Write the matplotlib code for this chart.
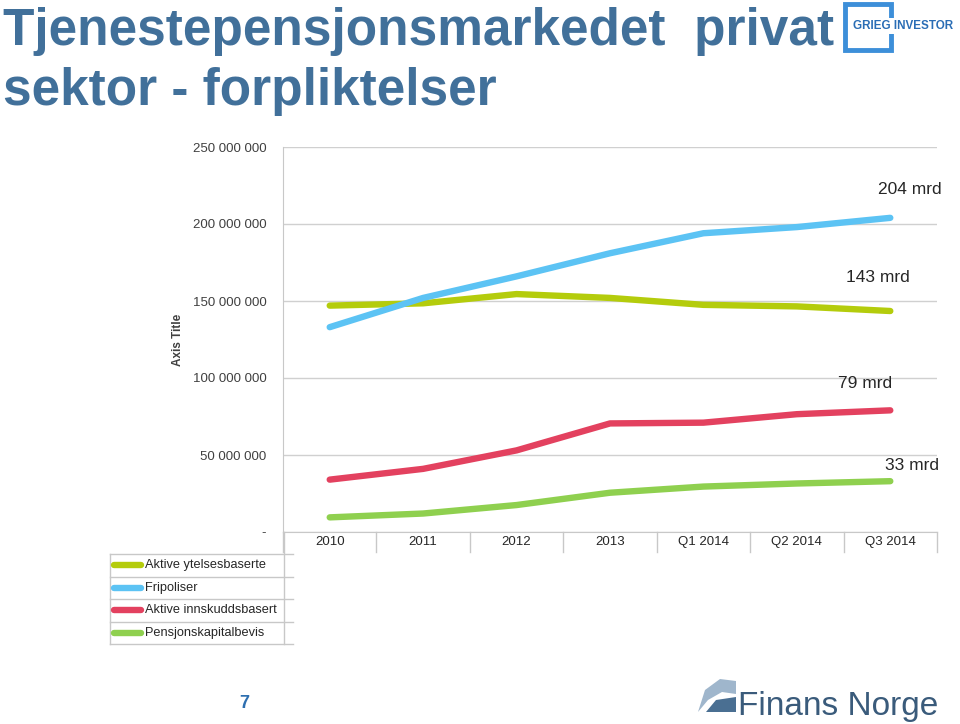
import matplotlib
matplotlib.use("Agg")
import matplotlib.pyplot as plt
from matplotlib.lines import Line2D
from matplotlib.patches import Rectangle, Polygon
from matplotlib.ticker import FuncFormatter, MultipleLocator

categories = ["2010", "2011", "2012", "2013", "Q1 2014", "Q2 2014", "Q3 2014"]
series_names = ["Aktive ytelsesbaserte", "Fripoliser", "Aktive innskuddsbasert", "Pensjonskapitalbevis"]
aktive_ytelse = [147.0e6, 148.5e6, 154.5e6, 152.0e6, 147.5e6, 146.5e6, 143.5e6]
fripoliser = [133.0e6, 152.0e6, 166.0e6, 181.0e6, 194.0e6, 198.0e6, 204.0e6]
aktive_innskudd = [34.0e6, 41.0e6, 53.0e6, 70.5e6, 71.0e6, 76.5e6, 79.0e6]
pensjonskapital = [9.5e6, 12.0e6, 17.5e6, 25.5e6, 29.5e6, 31.5e6, 33.0e6]
end_labels = ["143 mrd", "204 mrd", "79 mrd", "33 mrd"]
colors = ["#b4cc0c", "#5cc3f4", "#e3415f", "#8fd04f"]

FONT = ["Liberation Sans", "DejaVu Sans"]
TITLE_C = "#41709a"

W, H = 960, 724
fig = plt.figure(figsize=(W / 100, H / 100), dpi=100)
fig.patch.set_facecolor("white")

def fx(px):
    return px / W

def fy(py):
    return 1 - py / H

ax = fig.add_axes([fx(283), fy(532), fx(937) - fx(283), fy(147) - fy(532)])
x = list(range(len(categories)))
all_series = [aktive_ytelse, fripoliser, aktive_innskudd, pensjonskapital]
for vals, c in zip(all_series, colors):
    ax.plot(x, vals, color=c, lw=4.6, solid_capstyle="round", solid_joinstyle="round", zorder=3)

ax.set_xlim(-0.5, len(categories) - 0.5)
ax.set_ylim(0, 250e6)
ax.yaxis.set_major_locator(MultipleLocator(50e6))

def fmt(v, pos):
    if abs(v) < 1:
        return "-"
    return f"{int(round(v)):,}".replace(",", " ")

ax.yaxis.set_major_formatter(FuncFormatter(fmt))
ax.tick_params(axis="y", length=0, pad=12, labelsize=9.5, labelcolor="#404040")
for lab in ax.get_yticklabels():
    lab.set_family(FONT)
ax.set_xticks([])
ax.grid(axis="y", color="#d0d0d0", lw=1)
ax.set_axisbelow(True)
for s in ["top", "right"]:
    ax.spines[s].set_visible(False)
ax.spines["left"].set_color("#c8c8c8")
ax.spines["bottom"].set_color("#c8c8c8")

# y-axis title
fig.text(fx(178), fy(340), "Axis Title", rotation=90, ha="center", va="center",
         fontsize=8.5, fontweight="bold", color="#404040", family=FONT)

# end labels
label_pos = [(846, 278), (878, 189), (838, 383), (885, 466)]
for (px, py), t in zip(label_pos, end_labels):
    fig.text(fx(px), fy(py), t, ha="left", va="center", fontsize=12.5, color="#262626", family=FONT)

# data-table style x-axis
xt = ax.get_xaxis_transform()
for i in range(len(categories) + 1):
    ax.add_line(Line2D([i - 0.5, i - 0.5], [0, -20 / 385], transform=xt, color="#c8c8c8", lw=1, clip_on=False))
for i, c in enumerate(categories):
    ax.text(i, -10 / 385, c, transform=xt, ha="center", va="center", fontsize=9.5, color="#262626", family=FONT)

# legend table
rows_y = [554, 576.5, 599, 621.5, 644]
for ry in rows_y:
    fig.add_artist(Line2D([fx(110), fx(293)], [fy(ry), fy(ry)], color="#c8c8c8", lw=1))
fig.add_artist(Line2D([fx(110), fx(110)], [fy(554), fy(644)], color="#c8c8c8", lw=1))
fig.add_artist(Line2D([fx(284), fx(284)], [fy(532), fy(644)], color="#c8c8c8", lw=1))
for k, (name, c) in enumerate(zip(series_names, colors)):
    cy = (rows_y[k] + rows_y[k + 1]) / 2
    fig.add_artist(Line2D([fx(114), fx(141)], [fy(cy), fy(cy)], color=c, lw=4.6, solid_capstyle="round"))
    fig.text(fx(145), fy(cy), name, ha="left", va="center", fontsize=9.2, color="#262626", family=FONT)

# title
fig.text(fx(3), fy(45), "Tjenestepensjonsmarkedet  privat", ha="left", va="baseline",
         fontsize=37, fontweight="bold", color=TITLE_C, family=FONT)
fig.text(fx(3), fy(105), "sektor - forpliktelser", ha="left", va="baseline",
         fontsize=37, fontweight="bold", color=TITLE_C, family=FONT)

# Grieg Investor logo
fig.add_artist(Rectangle((fx(845), fy(50)), fx(46), fy(4) - fy(50), fill=False,
                         edgecolor="#3d8fd9", lw=3.5))
fig.text(fx(853), fy(26), "GRIEG INVESTOR", ha="left", va="center", fontsize=8.4,
         fontweight="bold", color="#2a6db5", family=FONT,
         bbox=dict(facecolor="white", edgecolor="none", pad=1.5))

# page number
fig.text(fx(244), fy(704), "7", ha="center", va="center", fontsize=13, color="#2e6fb0",
         fontweight="bold", family=FONT)

# Finans Norge logo
fig.add_artist(Polygon([(fx(698), fy(712)), (fx(705), fy(690)), (fx(720), fy(679)), (fx(736), fy(681)),
                        (fx(736), fy(694)), (fx(722), fy(692)), (fx(708), fy(700))],
                       closed=True, facecolor="#9fb6cc", edgecolor="none"))
fig.add_artist(Polygon([(fx(706), fy(712)), (fx(716), fy(700)), (fx(736), fy(697)), (fx(736), fy(712))],
                       closed=True, facecolor="#4a6f92", edgecolor="none"))
fig.text(fx(738), fy(715), "Finans Norge", ha="left", va="baseline", fontsize=24,
         color="#3a5b7b", family=FONT)

fig.savefig("out.png", dpi=100, facecolor="white")
